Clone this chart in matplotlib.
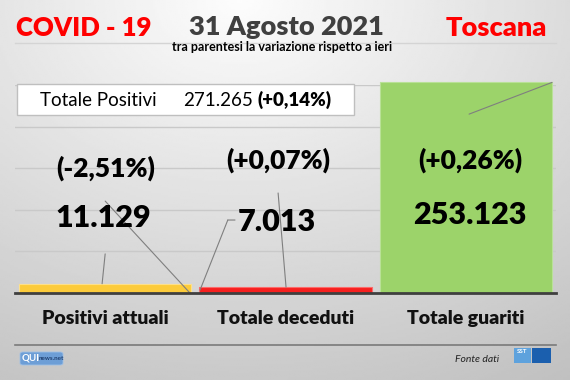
import matplotlib
matplotlib.use("Agg")
import matplotlib.pyplot as plt
import numpy as np
from matplotlib.patches import Rectangle, FancyBboxPatch
from matplotlib.lines import Line2D

plt.rcParams['font.family'] = ['Lato', 'DejaVu Sans']

# Data
categories = ["Positivi attuali", "Totale deceduti", "Totale guariti"]
values = [11129, 7013, 253123]
pct_changes = ["-2,51%", "+0,07%", "+0,26%"]
bar_colors = ["#fccb3b", "#f7201f", "#9cd36a"]
edge_colors = ["#fde08a", "#fb6a6a", "#b9e197"]
total_positivi = 271265
total_pct = "+0,14%"
date_label = "31 Agosto 2021"
region = "Toscana"

W, H = 570, 380


def fx(px):
    return px / W


def fy(py):
    return 1 - py / H


def it_num(v):
    return f"{v:,}".replace(",", ".")


fig = plt.figure(figsize=(5.7, 3.8), dpi=100)

# background gradient
bg = fig.add_axes([0, 0, 1, 1], zorder=-10)
yy, xx = np.mgrid[0:1:200j, 0:1:300j]
dist = np.sqrt(((xx - 0.42) * 1.1) ** 2 + (yy * 1.0) ** 2)
shade = 0.99 - 0.2 * np.clip(dist, 0, 1.2)
bg.imshow(shade, cmap="gray", vmin=0, vmax=1, extent=[0, 1, 0, 1], aspect="auto", origin="upper")
bg.axis("off")

# main plot area
ax = fig.add_axes([fx(15), fy(293), fx(541), 208 / H])
ax.patch.set_visible(False)
x = np.arange(len(categories))
bars = ax.bar(x, values, width=0.955, color=bar_colors, edgecolor=edge_colors,
              linewidth=0.8, zorder=2, clip_on=False)
ax.set_xlim(-0.5, len(categories) - 0.5)
ax.set_ylim(0, 250000)
ax.set_yticks(np.arange(50000, 250001, 50000))
ax.yaxis.grid(True, color="#c9c9c9", linewidth=1)
ax.set_axisbelow(True)
for s in ["top", "right", "left"]:
    ax.spines[s].set_visible(False)
ax.spines["bottom"].set_color("#3f3f3f")
ax.spines["bottom"].set_linewidth(2)
ax.spines["bottom"].set_zorder(3)
ax.tick_params(axis="y", length=0, labelleft=False)
ax.tick_params(axis="x", length=0, pad=12)
ax.set_xticks(x)
ax.set_xticklabels(categories, fontsize=14, fontweight="heavy", color="#111111")

# value and percent labels (positions in axes fraction)
pct_pos = [(0.167, 0.60), (0.487, 0.64), (0.842, 0.64)]
val_pos = [(0.163, 0.36), (0.484, 0.34), (0.840, 0.375)]
for i in range(len(values)):
    ax.text(*pct_pos[i], f"({pct_changes[i]})", transform=ax.transAxes, ha="center",
            va="center", fontsize=19, fontweight="heavy", color="black", zorder=5)
    ax.text(*val_pos[i], it_num(values[i]), transform=ax.transAxes, ha="center",
            va="center", fontsize=22, fontweight="heavy", color="black", zorder=5)

# leader lines (Excel style)
lead = dict(arrowstyle="-", shrinkA=0, shrinkB=0, color="#7f7f7f", linewidth=0.8)
ax.annotate("", xy=(-0.017, values[0]), xytext=(0.0, 47000), arrowprops=lead)
ax.annotate("", xy=(0.47, 0), xytext=(0.0, 110500), arrowprops=lead)
ax.annotate("", xy=(0.526, values[1] * 0.5), xytext=(0.68, 87700), arrowprops=lead)
ax.annotate("", xy=(0.68, 87700), xytext=(0.72, 87700), arrowprops=lead)
ax.annotate("", xy=(1.003, values[1]), xytext=(0.959, 120200), arrowprops=lead)
ax.annotate("", xy=(2.478, values[2]), xytext=(2.018, 215000), arrowprops=lead,
            annotation_clip=False)

# header
fig.text(fx(16), fy(28), "COVID - 19", color="#ff0000", fontsize=18.5, fontweight="heavy",
         ha="left", va="center")
fig.text(fx(286), fy(27), date_label, color="#404040", fontsize=19.5, fontweight="heavy",
         ha="center", va="center")
fig.text(fx(547), fy(28), region, color="#ff0000", fontsize=19.5, fontweight="heavy",
         ha="right", va="center")
fig.text(fx(282), fy(47), "tra parentesi la variazione rispetto a ieri", color="black",
         fontsize=9, fontweight="bold", ha="center", va="center")
fig.add_artist(Line2D([fx(15), fx(556)], [fy(43), fy(43)], color="#d4d4d4", linewidth=1))

# total positives box
fig.add_artist(Rectangle((fx(17), fy(115)), fx(337), 31 / H, facecolor="white",
                         edgecolor="#bfbfbf", linewidth=1, zorder=6))
fig.text(fx(40), fy(100), "Totale Positivi", fontsize=13.5, ha="left", va="center", zorder=7)
t_num = fig.text(fx(183), fy(100), it_num(total_positivi), fontsize=13.5, ha="left",
                 va="center", zorder=7)
fig.add_artist(plt.Annotation(f"({total_pct})", xy=(1, 0.5), xycoords=t_num,
                              xytext=(3.5, 0), textcoords="offset points", fontsize=13.5,
                              fontweight="heavy", ha="left", va="center", zorder=7))

# footer
fig.add_artist(Line2D([fx(15), fx(556)], [fy(345), fy(345)], color="#7a7a7a", linewidth=1.2))
fig.add_artist(FancyBboxPatch((fx(20), fy(365)), fx(43), 13 / H,
                              boxstyle="round,pad=0,rounding_size=0.005",
                              facecolor="#6d9ed6", edgecolor="#9fc0e6", linewidth=0.6))
fig.text(fx(22), fy(358.5), "QUI", color="white", fontsize=7, fontweight="bold",
         ha="left", va="center")
fig.text(fx(39), fy(359), "news.net", color="#1f3f6f", fontsize=4.5, fontweight="bold",
         ha="left", va="center")
fig.text(fx(499), fy(360), "Fonte dati", fontsize=7.5, style="italic", color="#222222",
         ha="right", va="center")
fig.add_artist(Rectangle((fx(514), fy(363)), fx(17), 15 / H, facecolor="#5ea2dd",
                         edgecolor="none"))
fig.add_artist(Rectangle((fx(532), fy(363)), fx(19), 15 / H, facecolor="#1b5fae",
                         edgecolor="none"))
fig.text(fx(522.5), fy(351.5), "SST", color="white", fontsize=4.5, fontweight="bold",
         ha="center", va="center")

fig.savefig("out.png", dpi=100)
